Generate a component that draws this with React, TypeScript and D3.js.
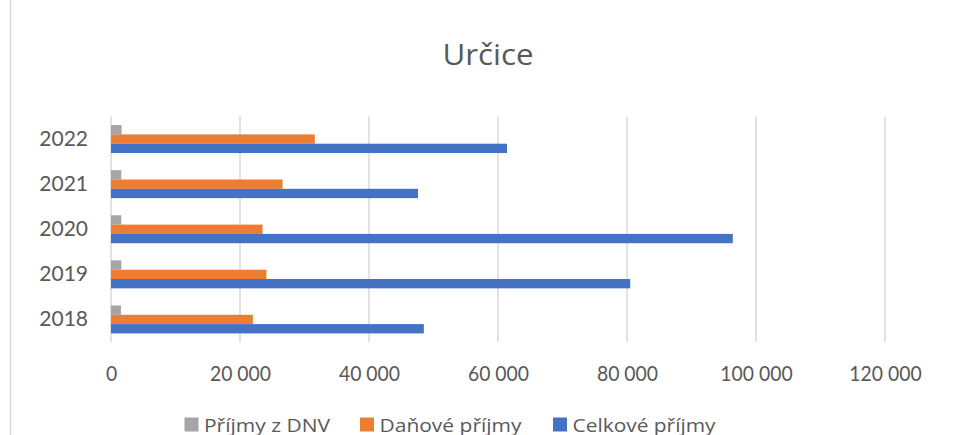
import { useEffect, useRef } from "react";
import * as d3 from "d3";

const title = "Určice";
const years = ["2018", "2019", "2020", "2021", "2022"];
const seriesNames = ["Příjmy z DNV", "Daňové příjmy", "Celkové příjmy"];
const seriesColors = ["#A5A5A5", "#ED7D31", "#4472C4"];
const prijmyDnv = [1550, 1600, 1600, 1600, 1650];
const danovePrijmy = [22000, 24100, 23500, 26600, 31600];
const celkovePrijmy = [48500, 80500, 96400, 47600, 61400];
const xTicks = [0, 20000, 40000, 60000, 80000, 100000, 120000];

const width = 954;
const height = 435;
const margin = { top: 116.5, right: 69, bottom: 93, left: 111 };

export default function App() {
  const ref = useRef<SVGSVGElement>(null);

  useEffect(() => {
    const svg = d3.select(ref.current);
    svg.selectAll("*").remove();

    const innerWidth = width - margin.left - margin.right;
    const innerHeight = height - margin.top - margin.bottom;
    const textColor = "#595959";

    // frame line on the left
    svg.append("line")
      .attr("x1", 10.5).attr("x2", 10.5)
      .attr("y1", 0).attr("y2", height)
      .attr("stroke", "#D9D9D9")
      .attr("stroke-width", 1.5);

    svg.append("text")
      .text(title)
      .attr("x", 488)
      .attr("y", 65)
      .attr("text-anchor", "middle")
      .attr("textLength", 91)
      .attr("lengthAdjust", "spacingAndGlyphs")
      .attr("font-family", "'Open Sans', sans-serif")
      .attr("font-size", 29.5)
      .attr("fill", textColor);

    const g = svg.append("g").attr("transform", `translate(${margin.left}, ${margin.top})`);

    const xScale = d3.scaleLinear([0, 120000], [0, innerWidth]);
    // 2022 on top
    const yScale = d3.scaleBand([...years].reverse(), [0, innerHeight])
      .paddingInner(0.38)
      .paddingOuter(0.19);
    const seriesScale = d3.scaleBand(seriesNames, [0, yScale.bandwidth()]);

    // gridlines
    g.append("g")
      .selectAll("line")
      .data(xTicks)
      .join("line")
      .attr("x1", d => xScale(d))
      .attr("x2", d => xScale(d))
      .attr("y1", 0)
      .attr("y2", innerHeight)
      .attr("stroke", "#D9D9D9")
      .attr("stroke-width", 1.5);

    const seriesValues = [prijmyDnv, danovePrijmy, celkovePrijmy];
    const rows = years.flatMap((year, i) =>
      seriesNames.map((name, s) => ({ year, name, s, value: seriesValues[s][i] }))
    );

    g.append("g")
      .selectAll("rect")
      .data(rows)
      .join("rect")
      .attr("x", xScale(0))
      .attr("y", d => (yScale(d.year) ?? 0) + (seriesScale(d.name) ?? 0))
      .attr("width", d => xScale(d.value) - xScale(0))
      .attr("height", seriesScale.bandwidth())
      .attr("fill", d => seriesColors[d.s]);

    // x axis labels
    const bottomAxis = d3.axisBottom(xScale)
      .tickValues(xTicks)
      .tickSize(0)
      .tickPadding(0)
      .tickFormat(d => d3.format(",")(d as number).replace(/,/g, " "));
    const axisX = g.append("g")
      .attr("transform", `translate(0, ${innerHeight})`)
      .call(bottomAxis);
    axisX.select(".domain").remove();
    axisX.selectAll("text")
      .attr("y", 31)
      .attr("dy", "0.35em")
      .attr("transform", "scale(0.88,1)")
      .attr("fill", textColor)
      .style("font-family", "Lato, sans-serif")
      .style("font-size", "22px");

    // y axis labels
    const leftAxis = d3.axisLeft(yScale).tickSize(0).tickPadding(23);
    const axisY = g.append("g").call(leftAxis);
    axisY.select(".domain").remove();
    axisY.selectAll("text")
      .attr("fill", textColor)
      .style("font-family", "Lato, sans-serif")
      .style("font-size", "21px");

    // legend (positions and text widths)
    const legendX = [184.5, 360, 553];
    const legendTextWidth = [126, 142, 143];
    const legend = svg.append("g")
      .selectAll("g")
      .data(seriesNames)
      .join("g")
      .attr("transform", (d, i) => `translate(${legendX[i]}, 417.5)`);
    legend.append("rect")
      .attr("width", 14)
      .attr("height", 14)
      .attr("fill", (d, i) => seriesColors[i]);
    legend.append("text")
      .text(d => d)
      .attr("x", 19.5)
      .attr("y", 14)
      .attr("textLength", (d, i) => legendTextWidth[i])
      .attr("lengthAdjust", "spacingAndGlyphs")
      .attr("fill", textColor)
      .attr("font-family", "'Open Sans', sans-serif")
      .attr("font-size", 18.5);
  }, []);

  return (
    <svg
      ref={ref}
      width={width}
      height={height}
      style={{ position: "absolute", left: 0, top: 0, background: "#fff" }}
    />
  );
}
